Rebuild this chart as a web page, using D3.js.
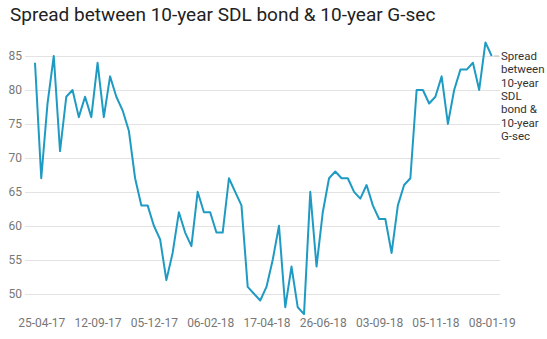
<!DOCTYPE html>
<html>
<head>
<meta charset="utf-8">
<script src="https://cdn.jsdelivr.net/npm/d3@7"></script>
<style>
  html, body { margin: 0; padding: 0; background: #fff; }
  svg { display: block; font-family: Roboto, "Open Sans", sans-serif; }
</style>
</head>
<body>
<svg id="chart" width="547" height="339"></svg>
<script>
const title = "Spread between 10-year SDL bond & 10-year G-sec";
const seriesName = ["Spread", "between", "10-year", "SDL", "bond &", "10-year", "G-sec"];
const values = [
  84, 67, 78, 85, 71, 79, 80, 76, 79, 76,
  84, 76, 82, 79, 77, 74, 67, 63, 63, 60,
  58, 52, 56, 62, 59, 57, 65, 62, 62, 59,
  59, 67, 65, 63, 51, 50, 49, 51, 55, 60,
  48, 54, 48, 47, 65, 54, 62, 67, 68, 67,
  67, 65, 64, 66, 63, 61, 61, 56, 63, 66,
  67, 80, 80, 78, 79, 82, 75, 80, 83, 83,
  84, 80, 87, 85
];
const tickLabels = ["25-04-17", "12-09-17", "05-12-17", "06-02-18", "17-04-18", "26-06-18", "03-09-18", "05-11-18", "08-01-19"];
const tickIndices = [1, 10, 19, 28, 37, 46, 55, 64, 73];
const yTicks = [50, 55, 60, 65, 70, 75, 80, 85];

const svg = d3.select("#chart");

svg.append("text")
  .attr("x", 10).attr("y", 21)
  .attr("font-size", 19).attr("fill", "#222")
  .text(title);

const x = d3.scalePoint().domain(d3.range(values.length)).range([35, 491.7]);
const y = d3.scaleLinear().domain([50, 85]).range([293.7, 56]);

// grid
svg.append("g").selectAll("line").data(yTicks).join("line")
  .attr("x1", 25).attr("x2", 500)
  .attr("y1", d => Math.round(y(d)) + 0.5).attr("y2", d => Math.round(y(d)) + 0.5)
  .attr("stroke", "#e3e3e3").attr("stroke-width", 1);

// y axis labels
const yAxis = d3.axisLeft(y).tickValues(yTicks).tickSize(0).tickPadding(0);
const gy = svg.append("g").attr("transform", "translate(22,0)").call(yAxis);
gy.select(".domain").remove();
gy.selectAll("text").attr("font-size", 12).attr("fill", "#777").attr("font-family", "Roboto, sans-serif");

// x axis labels
const xAxis = d3.axisBottom(x).tickValues(tickIndices).tickFormat((d, i) => tickLabels[i]).tickSize(0).tickPadding(0);
const gx = svg.append("g").attr("transform", "translate(0,318)").call(xAxis);
gx.select(".domain").remove();
gx.selectAll("text").attr("font-size", 12).attr("fill", "#777").attr("font-family", "Roboto, sans-serif");

// line
const line = d3.line().x((d, i) => x(i)).y(d => y(d));
svg.append("path").datum(values)
  .attr("d", line)
  .attr("fill", "none")
  .attr("stroke", "#1f9bc3")
  .attr("stroke-width", 2)
  .attr("stroke-linejoin", "round");

// label connector + label
const lastY = y(values[values.length - 1]);
svg.append("line")
  .attr("x1", 494).attr("x2", 499).attr("y1", lastY).attr("y2", lastY)
  .attr("stroke", "#bbb").attr("stroke-width", 1);
const lab = svg.append("text").attr("x", 501).attr("y", lastY + 4)
  .attr("font-size", 11.5).attr("fill", "#333");
seriesName.forEach((t, i) => {
  lab.append("tspan").attr("x", 501).attr("dy", i === 0 ? 0 : 13.3).text(t);
});
</script>
</body>
</html>
